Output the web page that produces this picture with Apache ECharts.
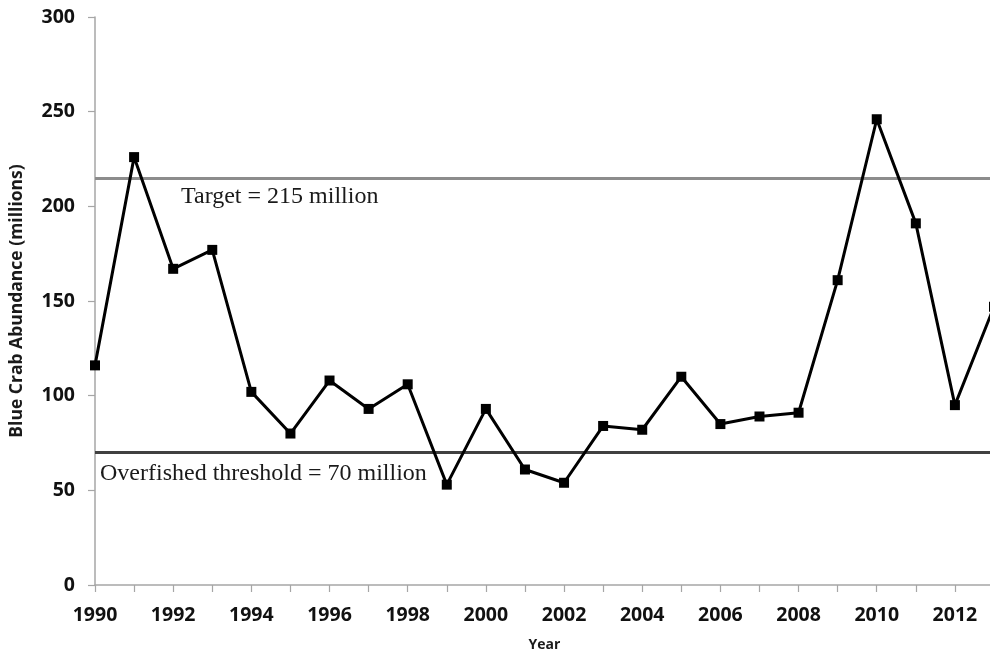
<!DOCTYPE html>
<html>
<head>
<meta charset="utf-8">
<script src="https://cdn.jsdelivr.net/npm/echarts@6/dist/echarts.min.js"></script>
<style>
html,body{margin:0;padding:0;background:#fff;}
#chart{width:990px;height:650px;}
</style>
</head>
<body>
<div id="chart"></div>
<script>
const years = [1990,1991,1992,1993,1994,1995,1996,1997,1998,1999,2000,2001,2002,2003,2004,2005,2006,2007,2008,2009,2010,2011,2012,2013];
const abundance = [116,226,167,177,102,80,108,93,106,53,93,61,54,84,82,110,85,89,91,161,246,191,95,147];
const targetValue = 215;
const thresholdValue = 70;
const targetLabel = 'Target = 215 million';
const thresholdLabel = 'Overfished threshold = 70 million';
const yTicks = {min: 0, max: 300, interval: 50};
const xRange = {min: 1990, max: 2013, interval: 1};

const chart = echarts.init(document.getElementById('chart'), null, {renderer: 'canvas'});
const sans = '"Open Sans", "Liberation Sans", sans-serif';
const serif = '"Liberation Serif", "DejaVu Serif", serif';

chart.setOption({
  animation: false,
  backgroundColor: '#ffffff',
  grid: {left: 95, width: 899, top: 17, bottom: 65, containLabel: false, outerBoundsMode: 'none'},
  xAxis: {
    type: 'value',
    min: xRange.min, max: xRange.max, interval: xRange.interval,
    name: 'Year', nameLocation: 'middle', nameGap: 53,
    nameTextStyle: {fontFamily: sans, fontWeight: 'bold', fontSize: 14, color: '#1a1a1a'},
    axisLine: {show: true, lineStyle: {color: '#a6a6a6', width: 1.5}},
    axisTick: {show: true, length: 7, lineStyle: {color: '#a6a6a6', width: 1.2}},
    splitLine: {show: false},
    axisLabel: {
      margin: 20, fontFamily: sans, fontWeight: 'bold', fontSize: 19.5, color: '#111',
      formatter: v => (v % 2 === 0 ? String(v) : ''),
      showMaxLabel: true
    }
  },
  yAxis: {
    type: 'value',
    min: yTicks.min, max: yTicks.max, interval: yTicks.interval,
    name: 'Blue Crab Abundance (millions)', nameLocation: 'middle', nameGap: 69,
    nameTextStyle: {fontFamily: sans, fontWeight: 'bold', fontSize: 17.5, color: '#1a1a1a'},
    axisLine: {show: true, lineStyle: {color: '#a6a6a6', width: 1.5}},
    axisTick: {show: true, length: 7, lineStyle: {color: '#a6a6a6', width: 1.2}},
    splitLine: {show: false},
    axisLabel: {margin: 20, fontFamily: sans, fontWeight: 'bold', fontSize: 19.5, color: '#111'}
  },
  series: [{
    type: 'line',
    data: years.map((y, i) => [y, abundance[i]]),
    symbol: 'rect', symbolSize: 10,
    lineStyle: {color: '#000', width: 3},
    itemStyle: {color: '#000'},
    z: 5,
    markLine: {
      silent: true,
      symbol: ['none', 'none'],
      z: 3,
      data: [
        {
          yAxis: targetValue,
          lineStyle: {color: '#8c8c8c', width: 3, type: 'solid'},
          label: {
            show: true, position: 'insideStartBottom', formatter: targetLabel,
            distance: [86, 7],
            fontFamily: serif, fontSize: 24, color: '#1a1a1a'
          }
        },
        {
          yAxis: thresholdValue,
          lineStyle: {color: '#404040', width: 3, type: 'solid'},
          label: {
            show: true, position: 'insideStartBottom', formatter: thresholdLabel,
            distance: [5, 9],
            fontFamily: serif, fontSize: 24, color: '#1a1a1a'
          }
        }
      ]
    }
  }]
});
</script>
</body>
</html>
